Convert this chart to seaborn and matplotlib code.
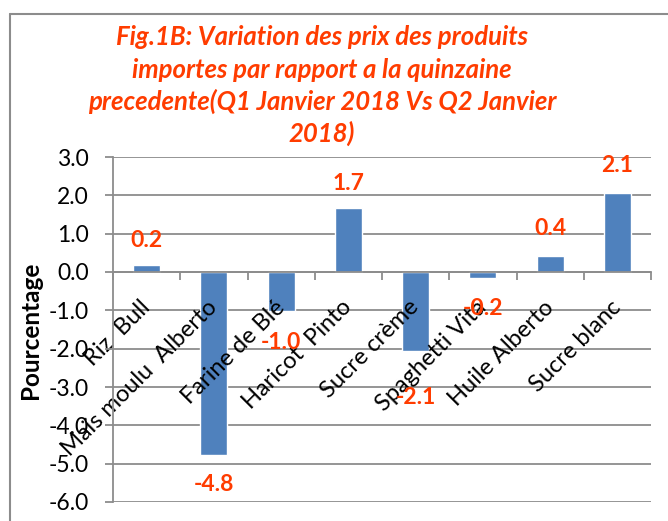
import numpy as np
import pandas as pd
import matplotlib
matplotlib.use("Agg")
import matplotlib.pyplot as plt
import seaborn as sns
from matplotlib.lines import Line2D

# ---- data ----
categories = ["Riz  Bull", "Maïs moulu  Alberto", "Farine de Blé", "Haricot  Pinto",
              "Sucre crème", "Spaghetti Vita", "Huile Alberto", "Sucre blanc"]
values = [0.18, -4.78, -1.01, 1.66, -2.07, -0.16, 0.42, 2.07]
value_labels = ["0.2", "-4.8", "-1.0", "1.7", "-2.1", "-0.2", "0.4", "2.1"]
y_ticks = [3.0, 2.0, 1.0, 0.0, -1.0, -2.0, -3.0, -4.0, -5.0, -6.0]
title_lines = ["Fig.1B: Variation des prix des produits",
               "importes par rapport a la quinzaine",
               "precedente(Q1 Janvier 2018 Vs Q2 Janvier",
               "2018)"]
y_label = "Pourcentage"

# label distance from bar end (pixels), layout only
label_gap_px = [25, 29, 32, 25, 46, 30, 27, 27]

# ---- style ----
sns.set_theme(style="white")
plt.rcParams["font.family"] = ["Lato", "DejaVu Sans"]

W, H = 668, 521
fig = plt.figure(figsize=(W / 100, H / 100), dpi=100)
ax = fig.add_axes([113 / W, 1 - 502 / H, (651 - 113) / W, (502 - 157) / H])

BAR = "#4F81BD"
GRID = "#8C8C8C"
RED = "#FF3C00"
FS = 16.5

df = pd.DataFrame({"Produit": categories, "Variation": values})
sns.barplot(data=df, x="Produit", y="Variation", color=BAR, saturation=1,
            width=0.4, ax=ax, zorder=1)

n = len(categories)
ax.set_xlim(-0.5, n - 0.5)
ax.set_ylim(min(y_ticks), max(y_ticks))
ax.set_yticks(y_ticks)
ax.set_yticklabels([f"{t:.1f}" for t in y_ticks])

# category boundaries as tick marks, labels at centres
ax.set_xticks(np.arange(-0.5, n, 1.0))
ax.set_xticklabels([])
ax.set_xticks(np.arange(n), minor=True)
ax.set_xticklabels(categories, minor=True)
ax.tick_params(axis="x", which="major", length=5.8, width=1.3, color=GRID,
               direction="out", bottom=True)
ax.tick_params(axis="x", which="minor", length=0, pad=23, labelsize=17,
               labelcolor="black", labelrotation=45, bottom=True)
ax.tick_params(axis="y", which="major", length=5.8, width=1.3, color=GRID,
               direction="out", left=True, pad=11.5, labelsize=FS,
               labelcolor="black")

ax.set_xlabel("")
ax.set_ylabel("")
ax.grid(False)
ax.set_axisbelow(False)  # axis text drawn above the bars
# horizontal gridlines behind the bars
for yt in y_ticks:
    ax.axhline(yt, color=GRID, linewidth=1.3, zorder=0.5)

for s in ["top", "right"]:
    ax.spines[s].set_visible(False)
ax.spines["bottom"].set_position(("data", 0))
for s in ["bottom", "left"]:
    ax.spines[s].set_color(GRID)
    ax.spines[s].set_linewidth(1.3)
    ax.spines[s].set_zorder(3)

# data labels
for i, (v, lbl, gap) in enumerate(zip(values, value_labels, label_gap_px)):
    off = gap * 0.72 if v >= 0 else -gap * 0.72
    ax.annotate(lbl, (i, v), xytext=(0, off), textcoords="offset points",
                ha="center", va="center", fontsize=FS, fontweight="bold",
                color=RED, zorder=5)

# y label
fig.text(31 / W, 1 - 330 / H, y_label, rotation=90, ha="center", va="center",
         fontsize=17.5, fontweight="bold", color="black")

# title
for line, yc in zip(title_lines, [37, 70, 101, 133]):
    fig.text(322 / W, 1 - yc / H, line, ha="center", va="center",
             fontsize=18.5, fontweight="bold", fontstyle="italic", color=RED)

# chart-area frame (top and left visible)
fig.add_artist(Line2D([10 / W, 1], [1 - 14 / H, 1 - 14 / H],
                      transform=fig.transFigure, color=GRID, lw=1.5))
fig.add_artist(Line2D([10 / W, 10 / W], [0, 1 - 14 / H],
                      transform=fig.transFigure, color=GRID, lw=1.5))

fig.canvas.draw()
for t in ax.xaxis.get_minor_ticks():
    t.label1.set_horizontalalignment("right")
    t.label1.set_verticalalignment("center")
    t.label1.set_rotation_mode("anchor")

fig.savefig("out.png", dpi=100)
